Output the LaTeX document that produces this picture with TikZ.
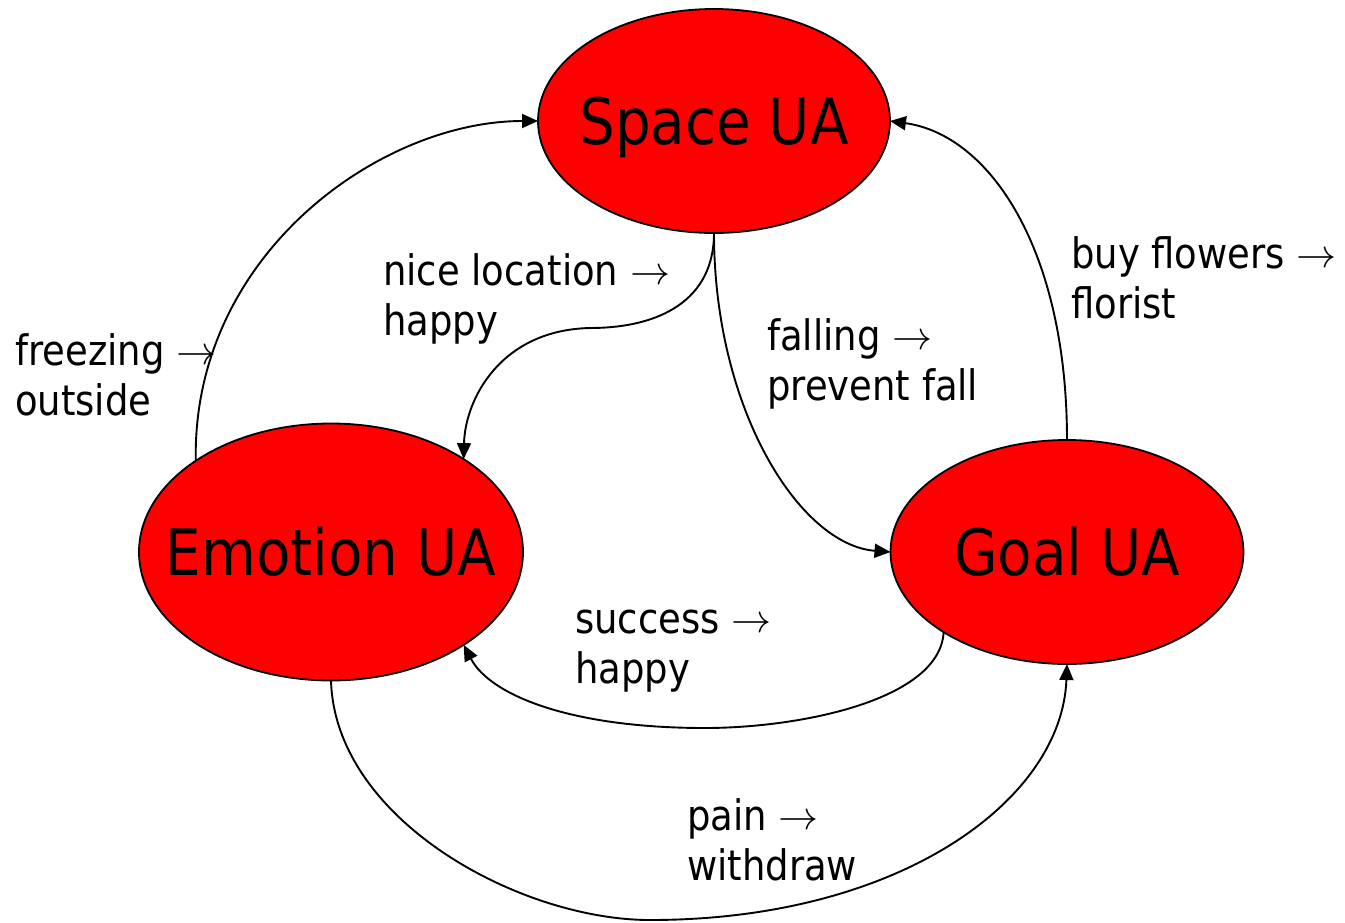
\documentclass[tikz,border=0pt]{standalone}
\usepackage{graphicx}
\usepackage{fontspec}
\setmainfont[FakeStretch=0.88]{DejaVu Sans}
\usetikzlibrary{arrows.meta,shapes.geometric}
\newcommand{\uatext}[1]{\raisebox{-23pt}[0pt][0pt]{\makebox[0pt]{#1}}}
\newcommand{\rarr}{\raisebox{1pt}{\resizebox{40pt}{!}{$\rightarrow$}}}
\tikzset{
  ua/.style={ellipse, draw=black, line width=1.8pt, fill=red, inner sep=0pt, outer sep=0pt,
    font=\fontsize{64}{64}\selectfont},
  lbl/.style={anchor=base west, inner sep=0pt, align=left,
    font=\fontsize{42}{50}\selectfont},
  conn/.style={line width=1.9pt, -{Triangle[length=16pt,width=14pt]}}
}
\begin{document}
\begin{tikzpicture}[x=1pt,y=-1pt]
\useasboundingbox (0,0) rectangle (1345,922);
\node[ua, minimum width=352pt, minimum height=224pt] (space) at (714,121) {\uatext{Space UA}};
\node[ua, minimum width=384pt, minimum height=257pt] (emo) at (331,552) {\uatext{Emotion UA}};
\node[ua, minimum width=353pt, minimum height=224pt] (goal) at (1067,552) {\uatext{Goal UA}};

\coordinate (s1) at (590,328);
\coordinate (g1) at (705,728);
\coordinate (e1) at (650,920);

\draw[conn] (emo.146) .. controls (192,255) and (380,121) .. (space.west);
\draw[conn] (space.south) .. controls (714,300) and (660,328) .. (s1) .. controls (500,330) and (465,400) .. (emo.35);
\draw[conn] (space.south) .. controls (714,410) and (800,545) .. (goal.west);
\draw[conn] (goal.north) .. controls (1067,250) and (990,135) .. (space.east);
\draw[conn] (goal.213) .. controls (940,700) and (800,728) .. (g1) .. controls (570,728) and (490,695) .. (emo.-35);
\draw[conn] (emo.south) .. controls (335,820) and (520,920) .. (e1) .. controls (900,920) and (1062,800) .. (goal.south);

\node[lbl] (l1) at (15,415) {freezing \rarr\\outside};
\node[lbl] (l2) at (383,335) {nice location \rarr\\happy};
\node[lbl] (l3) at (767,400) {falling \rarr\\prevent fall};
\node[lbl] (l4) at (1071,318) {buy flowers \rarr\\florist};
\node[lbl] (l5) at (575,683) {success \rarr\\happy};
\node[lbl] (l6) at (687,880) {pain \rarr\\withdraw};
\end{tikzpicture}
\end{document}
